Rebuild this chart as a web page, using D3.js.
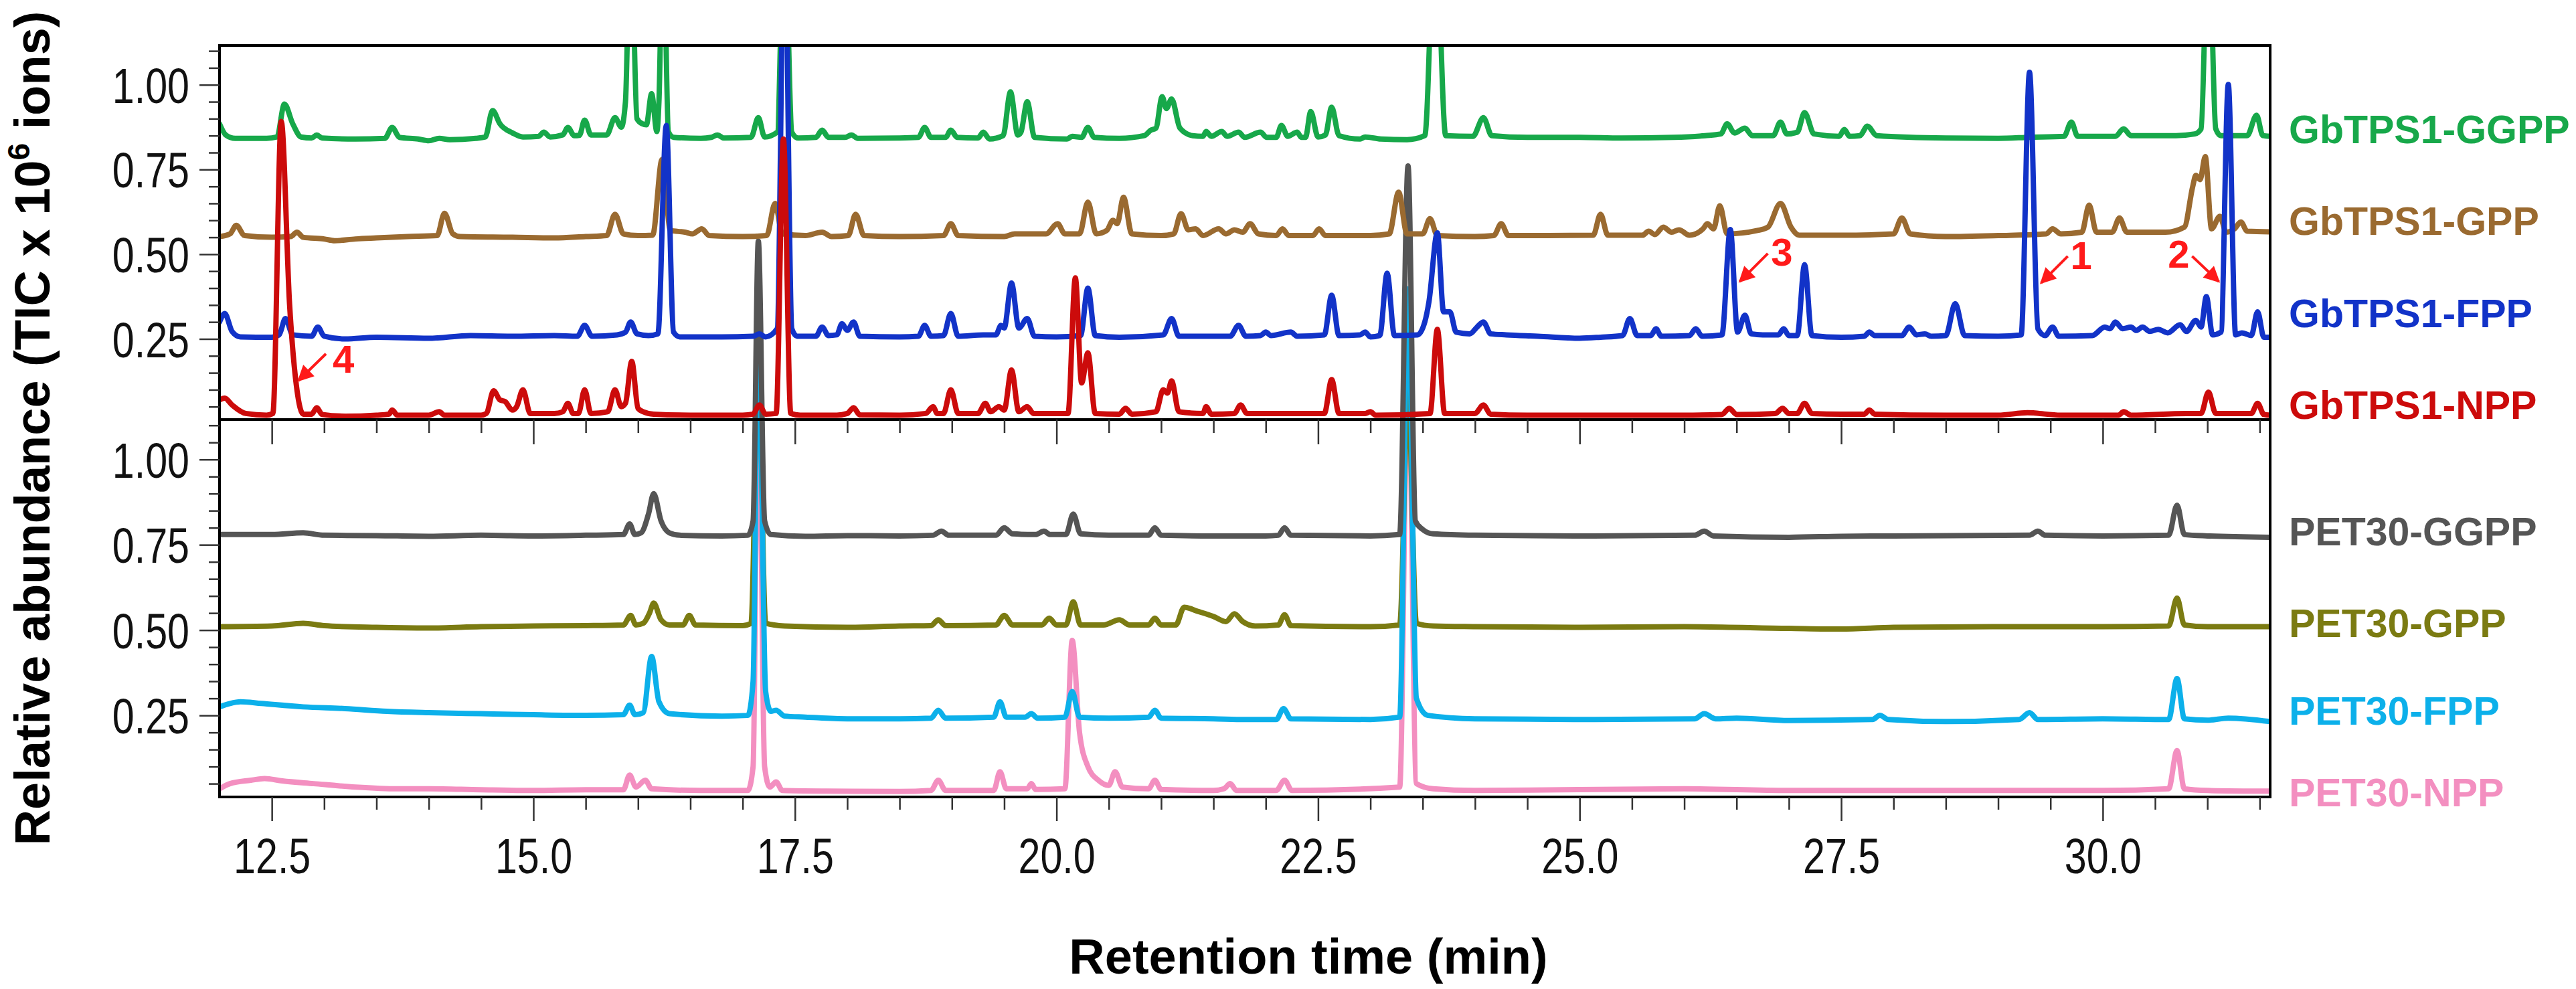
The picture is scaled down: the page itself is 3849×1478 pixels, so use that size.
<!DOCTYPE html>
<html lang="en">
<head>
<meta charset="UTF-8" />
<title>GbTPS1 and PET30 chromatograms</title>
<style>
  body { margin: 0; background: #fff; }
  svg { display: block; font-family: "Liberation Sans", Arial, sans-serif; }
  .tick line { stroke: #333; stroke-width: 2.5; }
  .tick text { font-size: 74px; fill: #111; }
  .trace { fill: none; stroke-width: 8; stroke-linejoin: round; stroke-linecap: round; }
  .frame { fill: none; stroke: #000; stroke-width: 4; }
  .label { font-size: 59px; font-weight: bold; }
  .title { font-size: 74px; font-weight: bold; fill: #000; }
  .note { font-size: 58px; font-weight: bold; fill: #ff1a1a; }
</style>
</head>
<body>
<svg width="3849" height="1478"></svg>
<script src="https://d3js.org/d3.v7.min.js"></script>
<script>
// tick labels
const timeTicks = [12.5, 15.0, 17.5, 20.0, 22.5, 25.0, 27.5, 30.0];
const abundanceTicks = [0.25, 0.50, 0.75, 1.00];

const gbtpsLabels = ["GbTPS1-GGPP", "GbTPS1-GPP", "GbTPS1-FPP", "GbTPS1-NPP"];
const pet30Labels = ["PET30-GGPP", "PET30-GPP", "PET30-FPP", "PET30-NPP"];

// [retention time (min), relative abundance]
const gbtpsGGPP = [[12.00,0.885],[12.06,0.852],[12.15,0.842],[12.45,0.842],[12.55,0.846],[12.62,0.943],[12.70,0.885],[12.78,0.846],[12.88,0.843],[12.93,0.852],[12.98,0.843],[13.30,0.840],[13.58,0.842],[13.65,0.874],[13.72,0.845],[13.90,0.840],[14.00,0.835],[14.10,0.842],[14.20,0.838],[14.45,0.842],[14.54,0.846],[14.61,0.924],[14.68,0.885],[14.80,0.858],[14.90,0.846],[15.05,0.848],[15.10,0.860],[15.16,0.846],[15.28,0.852],[15.33,0.874],[15.39,0.850],[15.44,0.851],[15.49,0.896],[15.55,0.852],[15.70,0.852],[15.78,0.903],[15.84,0.875],[15.88,0.950],[15.93,1.500],[15.99,0.900],[16.04,0.885],[16.08,0.882],[16.13,0.974],[16.18,0.862],[16.20,0.950],[16.24,1.500],[16.29,0.862],[16.34,0.845],[16.60,0.842],[16.70,0.845],[16.76,0.852],[16.82,0.843],[17.08,0.845],[17.15,0.903],[17.21,0.846],[17.33,0.860],[17.40,1.500],[17.47,0.860],[17.53,0.843],[17.70,0.845],[17.76,0.866],[17.82,0.845],[17.98,0.845],[18.04,0.852],[18.10,0.842],[18.50,0.843],[18.68,0.845],[18.74,0.874],[18.80,0.845],[18.94,0.845],[18.99,0.866],[19.05,0.845],[19.25,0.843],[19.30,0.860],[19.36,0.840],[19.49,0.850],[19.56,0.979],[19.63,0.852],[19.66,0.860],[19.72,0.950],[19.79,0.845],[20.10,0.840],[20.15,0.848],[20.24,0.845],[20.30,0.874],[20.36,0.845],[20.60,0.842],[20.84,0.850],[20.90,0.866],[20.95,0.872],[21.01,0.965],[21.05,0.930],[21.10,0.958],[21.18,0.872],[21.30,0.850],[21.40,0.848],[21.43,0.862],[21.48,0.848],[21.58,0.862],[21.63,0.848],[21.74,0.860],[21.80,0.845],[21.95,0.860],[22.01,0.845],[22.10,0.845],[22.15,0.880],[22.21,0.848],[22.30,0.860],[22.34,0.845],[22.38,0.845],[22.43,0.921],[22.50,0.846],[22.57,0.852],[22.63,0.934],[22.70,0.850],[22.90,0.840],[22.95,0.846],[23.10,0.840],[23.35,0.838],[23.52,0.850],[23.62,1.500],[23.72,0.850],[23.98,0.848],[24.08,0.903],[24.16,0.850],[24.50,0.845],[25.00,0.845],[25.40,0.843],[25.90,0.845],[26.20,0.850],[26.35,0.855],[26.41,0.885],[26.48,0.858],[26.58,0.872],[26.65,0.850],[26.85,0.850],[26.92,0.890],[26.98,0.855],[27.08,0.860],[27.15,0.918],[27.24,0.855],[27.48,0.848],[27.53,0.868],[27.58,0.848],[27.68,0.850],[27.75,0.878],[27.84,0.850],[28.50,0.843],[29.00,0.842],[29.30,0.845],[29.63,0.848],[29.70,0.890],[29.76,0.848],[30.12,0.848],[30.20,0.870],[30.27,0.850],[30.70,0.850],[30.88,0.855],[30.94,0.870],[31.01,1.500],[31.08,0.870],[31.13,0.850],[31.38,0.850],[31.47,0.910],[31.53,0.850],[31.60,0.848]];

const gbtpsGPP = [[12.00,0.552],[12.10,0.560],[12.16,0.585],[12.24,0.555],[12.50,0.550],[12.68,0.552],[12.74,0.565],[12.80,0.550],[13.00,0.545],[13.10,0.540],[13.30,0.545],[13.50,0.548],[13.80,0.552],[14.08,0.555],[14.15,0.621],[14.23,0.560],[14.30,0.552],[14.80,0.550],[15.20,0.548],[15.50,0.552],[15.70,0.555],[15.78,0.618],[15.86,0.560],[16.00,0.555],[16.14,0.556],[16.23,0.780],[16.31,0.570],[16.45,0.565],[16.52,0.560],[16.61,0.575],[16.68,0.555],[17.00,0.552],[17.23,0.555],[17.31,0.650],[17.38,0.560],[17.60,0.555],[17.76,0.565],[17.85,0.552],[18.01,0.555],[18.08,0.618],[18.16,0.555],[18.50,0.552],[18.92,0.555],[18.99,0.590],[19.06,0.555],[19.50,0.552],[19.60,0.560],[19.90,0.560],[20.01,0.590],[20.08,0.560],[20.22,0.560],[20.30,0.654],[20.38,0.560],[20.48,0.570],[20.54,0.600],[20.58,0.590],[20.64,0.668],[20.72,0.560],[21.00,0.555],[21.12,0.560],[21.19,0.620],[21.26,0.572],[21.33,0.575],[21.40,0.555],[21.55,0.575],[21.62,0.560],[21.70,0.572],[21.78,0.565],[21.85,0.590],[21.93,0.560],[22.10,0.555],[22.16,0.575],[22.22,0.555],[22.45,0.555],[22.51,0.575],[22.57,0.555],[23.00,0.555],[23.18,0.560],[23.27,0.683],[23.35,0.560],[23.50,0.560],[23.57,0.605],[23.64,0.555],[24.00,0.552],[24.18,0.555],[24.25,0.590],[24.32,0.555],[24.70,0.555],[25.13,0.556],[25.20,0.618],[25.27,0.556],[25.60,0.556],[25.66,0.568],[25.72,0.558],[25.80,0.580],[25.88,0.565],[25.95,0.572],[26.05,0.556],[26.18,0.575],[26.22,0.590],[26.28,0.575],[26.34,0.643],[26.41,0.560],[26.70,0.570],[26.80,0.580],[26.92,0.650],[27.02,0.580],[27.10,0.556],[27.50,0.556],[28.00,0.560],[28.08,0.607],[28.16,0.560],[28.50,0.552],[29.00,0.555],[29.46,0.560],[29.52,0.575],[29.60,0.560],[29.80,0.565],[29.87,0.645],[29.94,0.565],[30.09,0.565],[30.16,0.607],[30.23,0.565],[30.60,0.565],[30.78,0.580],[30.86,0.700],[30.89,0.733],[30.93,0.720],[30.98,0.788],[31.04,0.575],[31.12,0.612],[31.18,0.565],[31.26,0.575],[31.32,0.595],[31.38,0.568],[31.60,0.566]];

const gbtpsFPP = [[12.00,0.300],[12.05,0.325],[12.12,0.272],[12.20,0.256],[12.50,0.255],[12.57,0.262],[12.63,0.310],[12.70,0.262],[12.88,0.258],[12.94,0.285],[13.00,0.258],[13.20,0.250],[13.50,0.255],[14.00,0.252],[14.40,0.260],[14.80,0.258],[15.20,0.260],[15.42,0.258],[15.49,0.290],[15.56,0.258],[15.80,0.262],[15.88,0.270],[15.93,0.300],[15.99,0.265],[16.10,0.260],[16.19,0.265],[16.27,0.880],[16.34,0.270],[16.40,0.256],[16.80,0.256],[17.10,0.258],[17.16,0.265],[17.22,0.256],[17.33,0.280],[17.40,1.500],[17.47,0.280],[17.52,0.258],[17.70,0.258],[17.76,0.285],[17.82,0.260],[17.90,0.262],[17.95,0.295],[18.00,0.275],[18.06,0.300],[18.12,0.258],[18.50,0.256],[18.68,0.258],[18.74,0.290],[18.80,0.258],[18.92,0.260],[18.99,0.325],[19.06,0.258],[19.30,0.262],[19.42,0.262],[19.47,0.290],[19.50,0.282],[19.57,0.415],[19.64,0.282],[19.72,0.310],[19.79,0.258],[20.00,0.256],[20.23,0.260],[20.30,0.400],[20.37,0.260],[20.60,0.255],[21.02,0.262],[21.10,0.310],[21.17,0.258],[21.66,0.258],[21.74,0.290],[21.81,0.258],[21.95,0.260],[22.00,0.270],[22.05,0.260],[22.24,0.270],[22.30,0.258],[22.56,0.262],[22.63,0.379],[22.70,0.260],[22.90,0.262],[22.95,0.270],[23.00,0.256],[23.09,0.260],[23.16,0.444],[23.23,0.260],[23.45,0.262],[23.52,0.300],[23.56,0.360],[23.64,0.563],[23.70,0.330],[23.76,0.330],[23.82,0.270],[23.95,0.265],[24.02,0.285],[24.08,0.300],[24.15,0.265],[24.30,0.262],[24.60,0.258],[25.00,0.252],[25.20,0.255],[25.41,0.260],[25.48,0.310],[25.55,0.260],[25.68,0.260],[25.73,0.280],[25.78,0.258],[26.05,0.260],[26.11,0.280],[26.17,0.258],[26.36,0.262],[26.44,0.573],[26.51,0.270],[26.58,0.320],[26.64,0.265],[26.75,0.262],[26.90,0.262],[26.95,0.280],[27.00,0.260],[27.08,0.260],[27.15,0.469],[27.22,0.260],[27.50,0.255],[27.72,0.258],[27.77,0.270],[27.82,0.260],[28.08,0.260],[28.15,0.285],[28.22,0.262],[28.30,0.265],[28.36,0.258],[28.50,0.260],[28.59,0.354],[28.68,0.260],[29.00,0.258],[29.22,0.262],[29.30,1.037],[29.38,0.280],[29.45,0.260],[29.52,0.285],[29.58,0.258],[29.90,0.260],[30.02,0.285],[30.07,0.280],[30.12,0.300],[30.19,0.280],[30.27,0.285],[30.32,0.275],[30.38,0.285],[30.45,0.272],[30.53,0.278],[30.62,0.268],[30.74,0.292],[30.80,0.272],[30.89,0.305],[30.94,0.285],[30.99,0.375],[31.05,0.262],[31.13,0.270],[31.20,1.001],[31.27,0.262],[31.33,0.268],[31.42,0.260],[31.48,0.330],[31.54,0.255],[31.60,0.255]];

const gbtpsNPP = [[12.00,0.070],[12.05,0.075],[12.12,0.055],[12.25,0.030],[12.45,0.025],[12.51,0.030],[12.59,0.892],[12.67,0.350],[12.74,0.100],[12.80,0.028],[12.88,0.028],[12.93,0.047],[12.98,0.027],[13.20,0.022],[13.50,0.025],[13.62,0.028],[13.65,0.040],[13.70,0.025],[14.00,0.025],[14.10,0.035],[14.15,0.025],[14.50,0.025],[14.55,0.030],[14.62,0.097],[14.68,0.070],[14.73,0.065],[14.80,0.040],[14.84,0.050],[14.90,0.100],[14.97,0.030],[15.20,0.030],[15.28,0.035],[15.33,0.060],[15.38,0.030],[15.43,0.030],[15.49,0.100],[15.55,0.030],[15.71,0.035],[15.78,0.100],[15.84,0.050],[15.88,0.060],[15.94,0.184],[16.00,0.045],[16.05,0.035],[16.15,0.028],[16.50,0.025],[17.00,0.025],[17.10,0.028],[17.16,0.055],[17.22,0.028],[17.32,0.030],[17.39,0.840],[17.46,0.030],[17.55,0.025],[17.90,0.025],[18.00,0.030],[18.06,0.047],[18.12,0.026],[18.50,0.025],[18.75,0.030],[18.82,0.050],[18.86,0.030],[18.92,0.030],[18.99,0.100],[19.06,0.030],[19.25,0.030],[19.32,0.060],[19.37,0.035],[19.45,0.050],[19.50,0.040],[19.57,0.158],[19.64,0.035],[19.72,0.050],[19.78,0.030],[20.11,0.030],[20.18,0.430],[20.24,0.120],[20.30,0.209],[20.37,0.030],[20.60,0.028],[20.66,0.045],[20.72,0.028],[20.95,0.035],[21.02,0.100],[21.06,0.090],[21.10,0.126],[21.17,0.035],[21.40,0.030],[21.43,0.050],[21.48,0.028],[21.70,0.030],[21.76,0.055],[21.82,0.030],[22.56,0.030],[22.63,0.130],[22.70,0.030],[22.95,0.030],[23.00,0.035],[23.05,0.025],[23.57,0.030],[23.64,0.278],[23.71,0.030],[24.00,0.030],[24.08,0.055],[24.15,0.028],[24.50,0.025],[25.00,0.025],[26.00,0.025],[26.36,0.027],[26.43,0.045],[26.50,0.027],[26.87,0.030],[26.94,0.045],[27.00,0.030],[27.08,0.030],[27.15,0.060],[27.22,0.030],[27.50,0.028],[27.72,0.028],[27.77,0.040],[27.82,0.028],[28.50,0.025],[29.00,0.025],[29.28,0.032],[29.60,0.025],[30.15,0.025],[30.20,0.035],[30.27,0.025],[30.80,0.030],[30.94,0.030],[31.01,0.093],[31.08,0.030],[31.42,0.030],[31.48,0.060],[31.54,0.027],[31.60,0.025]];

const pet30GGPP = [[12.00,0.780],[12.50,0.780],[12.80,0.785],[13.00,0.778],[13.50,0.777],[14.00,0.775],[14.50,0.778],[15.00,0.776],[15.50,0.778],[15.86,0.780],[15.92,0.811],[15.97,0.780],[16.03,0.785],[16.10,0.840],[16.15,0.900],[16.22,0.820],[16.30,0.785],[16.40,0.778],[16.80,0.776],[17.05,0.778],[17.10,0.820],[17.15,1.640],[17.21,0.820],[17.27,0.780],[17.60,0.775],[18.00,0.777],[18.50,0.776],[18.82,0.778],[18.90,0.790],[18.97,0.778],[19.42,0.778],[19.50,0.800],[19.58,0.782],[19.80,0.780],[19.88,0.790],[19.94,0.780],[20.09,0.780],[20.16,0.840],[20.23,0.782],[20.50,0.778],[20.88,0.778],[20.94,0.800],[21.00,0.778],[21.50,0.776],[22.00,0.776],[22.12,0.778],[22.18,0.800],[22.24,0.778],[23.00,0.776],[23.28,0.780],[23.36,1.860],[23.43,0.820],[23.50,0.795],[23.60,0.782],[24.00,0.778],[25.00,0.776],[26.10,0.778],[26.19,0.790],[26.28,0.776],[27.00,0.772],[27.50,0.775],[28.00,0.776],[29.30,0.778],[29.38,0.790],[29.45,0.778],[30.00,0.776],[30.63,0.778],[30.71,0.866],[30.78,0.780],[31.00,0.776],[31.60,0.772]];

const pet30GPP = [[12.00,0.510],[12.50,0.512],[12.80,0.520],[13.00,0.513],[13.50,0.508],[14.00,0.506],[14.50,0.510],[15.00,0.512],[15.50,0.513],[15.86,0.515],[15.93,0.543],[15.98,0.515],[16.05,0.520],[16.11,0.550],[16.15,0.579],[16.22,0.530],[16.30,0.515],[16.43,0.515],[16.49,0.543],[16.55,0.515],[17.00,0.513],[17.08,0.520],[17.15,1.300],[17.22,0.520],[17.40,0.512],[18.00,0.508],[18.50,0.512],[18.80,0.513],[18.87,0.530],[18.94,0.513],[19.42,0.515],[19.50,0.543],[19.58,0.515],[19.86,0.515],[19.93,0.535],[20.00,0.515],[20.09,0.515],[20.16,0.583],[20.23,0.515],[20.45,0.515],[20.60,0.530],[20.70,0.515],[20.88,0.515],[20.94,0.535],[21.00,0.515],[21.14,0.515],[21.22,0.567],[21.35,0.555],[21.50,0.540],[21.62,0.525],[21.70,0.548],[21.78,0.525],[21.90,0.512],[22.12,0.515],[22.18,0.545],[22.24,0.513],[23.00,0.510],[23.28,0.515],[23.36,1.200],[23.44,0.520],[23.60,0.512],[24.00,0.510],[25.00,0.508],[26.00,0.510],[27.00,0.505],[27.50,0.503],[28.00,0.508],[29.00,0.510],[30.00,0.510],[30.63,0.512],[30.71,0.594],[30.78,0.515],[31.00,0.510],[31.60,0.510]];

const pet30FPP = [[12.00,0.275],[12.10,0.285],[12.20,0.290],[12.40,0.285],[12.80,0.275],[13.20,0.270],[13.60,0.262],[14.00,0.258],[14.50,0.255],[15.00,0.252],[15.50,0.250],[15.86,0.252],[15.92,0.280],[15.97,0.252],[16.05,0.258],[16.13,0.423],[16.20,0.290],[16.30,0.255],[16.80,0.248],[17.05,0.250],[17.10,0.350],[17.15,1.450],[17.22,0.320],[17.27,0.262],[17.32,0.265],[17.40,0.248],[17.60,0.245],[18.00,0.240],[18.50,0.240],[18.80,0.242],[18.87,0.265],[18.94,0.242],[19.40,0.245],[19.46,0.290],[19.52,0.245],[19.70,0.245],[19.76,0.255],[19.82,0.242],[20.08,0.245],[20.15,0.320],[20.22,0.245],[20.50,0.242],[20.88,0.245],[20.94,0.265],[21.00,0.242],[21.50,0.240],[21.80,0.238],[22.10,0.238],[22.17,0.270],[22.24,0.240],[23.00,0.238],[23.28,0.245],[23.36,1.500],[23.44,0.300],[23.55,0.250],[24.00,0.240],[25.00,0.238],[26.10,0.240],[26.19,0.255],[26.30,0.240],[26.50,0.242],[27.00,0.235],[27.80,0.238],[27.87,0.250],[27.95,0.238],[28.50,0.232],[29.20,0.238],[29.30,0.258],[29.38,0.238],[30.00,0.240],[30.63,0.238],[30.71,0.358],[30.78,0.240],[31.00,0.236],[31.20,0.242],[31.60,0.232]];

const pet30NPP = [[12.00,0.035],[12.10,0.050],[12.30,0.060],[12.43,0.065],[12.60,0.058],[12.90,0.050],[13.30,0.040],[13.70,0.035],[14.00,0.035],[14.50,0.032],[15.00,0.030],[15.50,0.032],[15.86,0.032],[15.92,0.075],[15.98,0.040],[16.07,0.060],[16.13,0.035],[16.60,0.030],[17.05,0.030],[17.10,0.100],[17.15,1.300],[17.21,0.100],[17.26,0.040],[17.32,0.055],[17.38,0.030],[17.80,0.028],[18.50,0.027],[18.80,0.030],[18.87,0.060],[18.94,0.030],[19.40,0.030],[19.46,0.085],[19.52,0.035],[19.72,0.035],[19.76,0.050],[19.80,0.033],[20.08,0.035],[20.15,0.470],[20.22,0.200],[20.30,0.100],[20.40,0.060],[20.50,0.045],[20.56,0.085],[20.63,0.040],[20.88,0.035],[20.94,0.060],[21.00,0.033],[21.50,0.030],[21.60,0.035],[21.66,0.050],[21.72,0.030],[22.10,0.030],[22.18,0.060],[22.25,0.030],[23.28,0.040],[23.36,1.300],[23.44,0.050],[23.60,0.035],[24.00,0.030],[26.00,0.035],[27.00,0.030],[28.00,0.030],[29.00,0.030],[30.00,0.030],[30.63,0.035],[30.71,0.147],[30.78,0.035],[31.00,0.030],[31.60,0.028]];

// numbered peaks: label, retention time and abundance at the arrow tip
const peakNotes = [["4", 12.755, 0.127], ["3", 26.53, 0.419], ["1", 29.41, 0.415], ["2", 31.11, 0.419]];

const gbtpsColors = ["#17a84a", "#9a6a30", "#1233c8", "#cc0b0b"];
const pet30Colors = ["#555555", "#7b7b12", "#0cb0ea", "#f38fc0"];

const svg = d3.select("svg");
const pL = 328, pR = 3392, pT = 68, pM = 627, pB = 1191;

const x = d3.scaleLinear().domain([12.0, 31.6]).range([pL, pR]);
const yTop = d3.scaleLinear().domain([0.012, 1.116]).range([pM, pT]);
const yBot = d3.scaleLinear().domain([0.011, 1.117]).range([pB, pM]);

const defs = svg.append("defs");
defs.append("clipPath").attr("id", "clipTop")
  .append("rect").attr("x", pL).attr("y", pT).attr("width", pR - pL).attr("height", pM - pT);
defs.append("clipPath").attr("id", "clipBot")
  .append("rect").attr("x", pL).attr("y", pT).attr("width", pR - pL).attr("height", pB - pT);
defs.append("marker").attr("id", "head")
  .attr("viewBox", "0 0 10 10").attr("refX", 9).attr("refY", 5)
  .attr("markerUnits", "userSpaceOnUse").attr("markerWidth", 28).attr("markerHeight", 24)
  .attr("orient", "auto")
  .append("path").attr("d", "M0,0 L10,5 L0,10 Z").attr("fill", "#ff1a1a");

const traceLine = (y) => d3.line().x(d => x(d[0])).y(d => y(d[1])).curve(d3.curveMonotoneX);

// lower panel first: its big peaks run up into the upper panel
const lowerOrder = [3, 1, 2, 0];
const pet30Series = [pet30GGPP, pet30GPP, pet30FPP, pet30NPP];
const gLow = svg.append("g").attr("clip-path", "url(#clipBot)");
lowerOrder.forEach(i => {
  gLow.append("path").attr("class", "trace")
    .attr("stroke", pet30Colors[i])
    .attr("d", traceLine(yBot)(pet30Series[i]));
});

const gbtpsSeries = [gbtpsGGPP, gbtpsGPP, gbtpsFPP, gbtpsNPP];
const gUp = svg.append("g").attr("clip-path", "url(#clipTop)");
gbtpsSeries.forEach((s, i) => {
  gUp.append("path").attr("class", "trace")
    .attr("stroke", gbtpsColors[i])
    .attr("d", traceLine(yTop)(s));
});

// frames
svg.append("rect").attr("class", "frame").attr("x", pL).attr("y", pT).attr("width", pR - pL).attr("height", pM - pT);
svg.append("rect").attr("class", "frame").attr("x", pL).attr("y", pM).attr("width", pR - pL).attr("height", pB - pM);

// y axes
const minorAbund = d3.range(1, 23).filter(i => i % 5 !== 0).map(i => i * 0.05);
const sx = 0.8;
[yTop, yBot].forEach(y => {
  const gm = svg.append("g").attr("transform", `translate(${pL},0)`)
    .call(d3.axisLeft(y).tickValues(minorAbund).tickSize(16).tickFormat(""));
  gm.select(".domain").remove();
  const g = svg.append("g").attr("transform", `translate(${pL},0)`)
    .call(d3.axisLeft(y).tickValues(abundanceTicks).tickSize(30).tickPadding(15).tickFormat(d3.format(".2f")));
  g.select(".domain").remove();
  g.selectAll("text").attr("x", -45 / sx).attr("transform", `scale(${sx},1)`).attr("dy", "0.36em");
});

// x axes: labelled at the bottom, inner ticks under the divider
const minorTime = d3.range(25, 64).filter(i => i % 5 !== 0).map(i => i / 2);
[[pB, true], [pM, false]].forEach(([yPos, labelled]) => {
  const gm = svg.append("g").attr("transform", `translate(0,${yPos})`)
    .call(d3.axisBottom(x).tickValues(minorTime).tickSize(labelled ? 19 : 20).tickFormat(""));
  gm.select(".domain").remove();
  const g = svg.append("g").attr("transform", `translate(0,${yPos})`)
    .call(d3.axisBottom(x).tickValues(timeTicks).tickSize(labelled ? 36 : 37).tickPadding(25)
      .tickFormat(labelled ? d3.format(".1f") : ""));
  g.select(".domain").remove();
  g.selectAll("text").attr("transform", `scale(${sx},1)`);
});

// titles
const yt = svg.append("text").attr("class", "title")
  .attr("text-anchor", "middle")
  .attr("transform", "translate(74,640) rotate(-90)");
yt.append("tspan").text("Relative abundance (TIC x 10");
yt.append("tspan").attr("font-size", 46).attr("dy", -30).text("6");
yt.append("tspan").attr("dy", 30).text(" ions)");

svg.append("text").attr("class", "title")
  .attr("x", 1955).attr("y", 1455).attr("text-anchor", "middle")
  .text("Retention time (min)");

// series labels
const gbtpsLabelY = [193, 330, 468, 605];
const pet30LabelY = [794, 931, 1062, 1184];
const addLabel = (t, c, cy) => svg.append("text").attr("class", "label").attr("fill", c)
  .attr("x", 3420).attr("y", cy + 21).text(t);
gbtpsLabels.forEach((t, i) => addLabel(t, gbtpsColors[i], gbtpsLabelY[i]));
pet30Labels.forEach((t, i) => addLabel(t, pet30Colors[i], pet30LabelY[i]));

// numbered peak arrows
const noteOffsets = { "4": [41, -40, 67, -33], "3": [42, -42, 63, -45], "1": [40, -40, 60, -42], "2": [-40, -38, -60, -42] };
peakNotes.forEach(([n, t, v]) => {
  const tx = x(t), ty = yTop(v);
  const [dx, dy, lx, ly] = noteOffsets[n];
  svg.append("line")
    .attr("x1", tx + dx).attr("y1", ty + dy).attr("x2", tx).attr("y2", ty)
    .attr("stroke", "#ff1a1a").attr("stroke-width", 4).attr("marker-end", "url(#head)");
  svg.append("text").attr("class", "note")
    .attr("x", tx + lx).attr("y", ty + ly).attr("dy", "0.36em")
    .attr("text-anchor", "middle").text(n);
});
</script>
</body>
</html>
